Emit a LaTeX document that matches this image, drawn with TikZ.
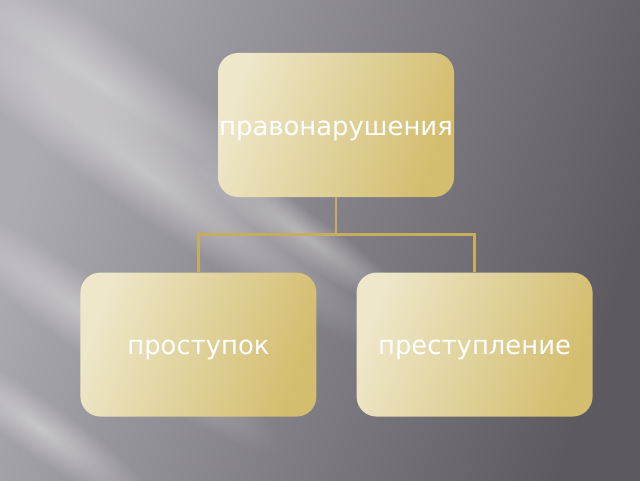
\documentclass[tikz,border=0pt]{standalone}
\usepackage{fontspec}
\setmainfont{DejaVu Sans}
\usetikzlibrary{positioning,fadings}
\definecolor{bglight}{HTML}{ADABB2}
\definecolor{bgdark}{HTML}{5C5A60}
\definecolor{boxlight}{HTML}{EEE7C9}
\definecolor{boxdark}{HTML}{D3BD6E}
\definecolor{link}{HTML}{C8AE5C}
\tikzfading[name=glow, inner color=transparent!60, outer color=transparent!100]

\begin{document}
\begin{tikzpicture}[
	term/.style={rounded corners=0.5cm, minimum width=5.9cm, minimum height=3.6cm,
		inner xsep=0pt, text height=1ex, text depth=0pt,
		top color=boxlight, bottom color=boxdark, shading angle=70,
		text=white, font=\fontsize{18.4}{22}\selectfont},
	ray/.style={fill=white, path fading=glow}]
	\useasboundingbox (0,0) rectangle (16,12);
	% background
	\shade[top color=bglight, bottom color=bgdark, shading angle=72] (0,0) rectangle (16,12);
	\begin{scope}
		\clip (0,0) rectangle (16,12);
		\begin{scope}[transform canvas={rotate around={-35:(2.5,9.9)}}]
			\fill[ray] (-4,8.6) rectangle (9,11.2);
		\end{scope}
		\begin{scope}[transform canvas={rotate around={-35:(3.75,7.6)}}]
			\fill[ray] (-4,6.6) rectangle (11.5,8.6);
		\end{scope}
		\begin{scope}[transform canvas={rotate around={-35:(7.6,6.1)}}]
			\fill[ray] (4.2,5.5) rectangle (11,6.7);
		\end{scope}
		\begin{scope}[transform canvas={rotate around={-35:(2.5,3.9)}}]
			\fill[ray] (-3,3.0) rectangle (8,4.8);
		\end{scope}
		\begin{scope}[transform canvas={rotate around={-35:(1,1.3)}}]
			\fill[ray] (-2.5,0.6) rectangle (4.5,2.0);
		\end{scope}
	\end{scope}
	% tree
	\node[term] (1) at (8.4,8.875) {\raisebox{-5pt}{правонарушения}};
	\node[term] (2) [below left=1.875cm and -2.475cm of 1] {\raisebox{-4.5pt}{проступок}};
	\node[term] (3) [below right=1.875cm and -2.45cm of 1] {\raisebox{-4.5pt}{преступление}};
	\draw[link, line width=1.9pt] (1.south) -- ++(0,-0.925) -| (2.north);
	\draw[link, line width=1.9pt] (1.south) -- ++(0,-0.925) -| (3.north);
\end{tikzpicture}
\end{document}
